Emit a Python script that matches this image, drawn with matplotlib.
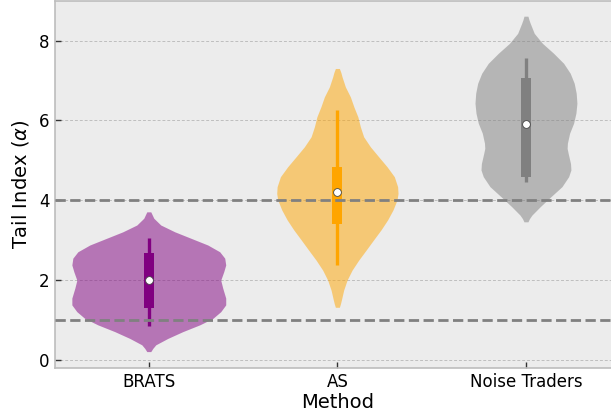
import numpy as np
import matplotlib
matplotlib.use("Agg")
import matplotlib.pyplot as plt

# ---------------- data ----------------
methods = ["BRATS", "AS", "Noise Traders"]

# violin profiles: tail-index value and relative density (half-width)
brats_y = [3.71, 3.63, 3.55, 3.38, 3.21, 3.05, 2.88, 2.71, 2.55, 2.38, 2.21, 2.00,
           1.80, 1.55, 1.38, 1.21, 1.04, 0.88, 0.71, 0.54, 0.38, 0.29, 0.21]
brats_density = [2, 3.5, 5, 12, 26, 42, 59, 71, 76, 77, 75, 72,
                 74, 77, 77, 72, 64, 51, 34, 19, 7, 4, 2]

as_y = [7.30, 7.20, 7.09, 6.84, 6.59, 6.34, 6.09, 5.84, 5.59, 5.34, 5.09, 4.84, 4.59,
        4.34, 4.17, 4.01, 3.76, 3.51, 3.26, 3.01, 2.75, 2.50, 2.25, 2.00, 1.75,
        1.50, 1.40, 1.32]
as_density = [2, 3.5, 4.7, 8, 13, 16.5, 20.5, 23, 26.3, 33, 41.3, 49.7, 57,
              60.3, 60.7, 59.7, 55.7, 50.3, 43.7, 36.3, 28.7, 21.3, 14.7, 9.7, 6.3,
              4, 3, 2]

nt_y = [8.61, 8.52, 8.43, 8.18, 7.93, 7.68, 7.43, 7.18, 6.93, 6.68, 6.43, 6.18,
        5.93, 5.68, 5.43, 5.30, 5.17, 4.92, 4.76, 4.59, 4.34, 4.09, 3.84, 3.63, 3.54, 3.46]
nt_density = [2, 3, 4.3, 8.3, 16.5, 27.7, 37.7, 44.3, 48.3, 50.3, 51, 50,
              47.7, 43.7, 41.5, 41.2, 42.3, 44.6, 45, 42.7, 36, 25, 14.3, 6, 3.5, 2]

whisker_low = [0.86, 2.37, 4.46]
quartile_1 = [1.29, 3.40, 4.59]
median = [2.00, 4.21, 5.92]
quartile_3 = [2.68, 4.84, 7.05]
whisker_high = [3.05, 6.26, 7.57]

reference_levels = [1, 4]

# ---------------- style ----------------
colors = ["#800080", "#FFA500", "#808080"]
bg = "#ECECEC"
spine_col = "#BDBDBD"

plt.rcParams["font.family"] = ["DejaVu Sans"]

fig = plt.figure(figsize=(6.11, 4.19), dpi=100)
ax = fig.add_axes([54.5 / 611, 51.3 / 419, 565.75 / 611, 366.7 / 419])
ax.set_facecolor(bg)
fig.patch.set_facecolor("white")

profiles = [(brats_y, brats_density), (as_y, as_density), (nt_y, nt_density)]
max_d = max(max(d) for _, d in profiles)
half_width = 0.408

for i, ((ys, ds), c) in enumerate(zip(profiles, colors)):
    ys = np.asarray(ys)
    ds = np.asarray(ds) / max_d * half_width
    ax.fill_betweenx(ys, i - ds, i + ds, color=c, alpha=0.5, linewidth=0, zorder=2)

x = np.arange(len(methods))
ax.vlines(x, whisker_low, whisker_high, colors=colors, linewidth=2.4, zorder=3)
ax.vlines(x, quartile_1, quartile_3, colors=colors, linewidth=7.2, zorder=3)

for lvl in reference_levels:
    ax.axhline(lvl, color="gray", linestyle="--", linewidth=2.0, zorder=4)

ax.plot(x, median, linestyle="none", marker="o", markersize=5.6,
        markerfacecolor="white", markeredgecolor="#444444", markeredgewidth=0.6, zorder=5)

ax.set_xlim(-0.5, 2.5)
ax.set_ylim(-0.193, 8.99)
ax.set_xticks(x)
ax.set_xticklabels(methods)
ax.set_yticks([0, 2, 4, 6, 8])

ax.grid(axis="y", color="#BEBEBE", linestyle=(0, (3, 2)), linewidth=0.7, zorder=0)
ax.set_axisbelow(True)

for s in ax.spines.values():
    s.set_color(spine_col)
    s.set_linewidth(1.2)

ax.tick_params(axis="both", direction="in", length=4, width=1, color="#333333",
               labelsize=12, labelcolor="black")

ax.set_xlabel("Method", fontsize=14, labelpad=2)
ax.set_ylabel(r"Tail Index ($\alpha$)", fontsize=14, labelpad=6)

fig.savefig("out.png", dpi=100, facecolor="white")
